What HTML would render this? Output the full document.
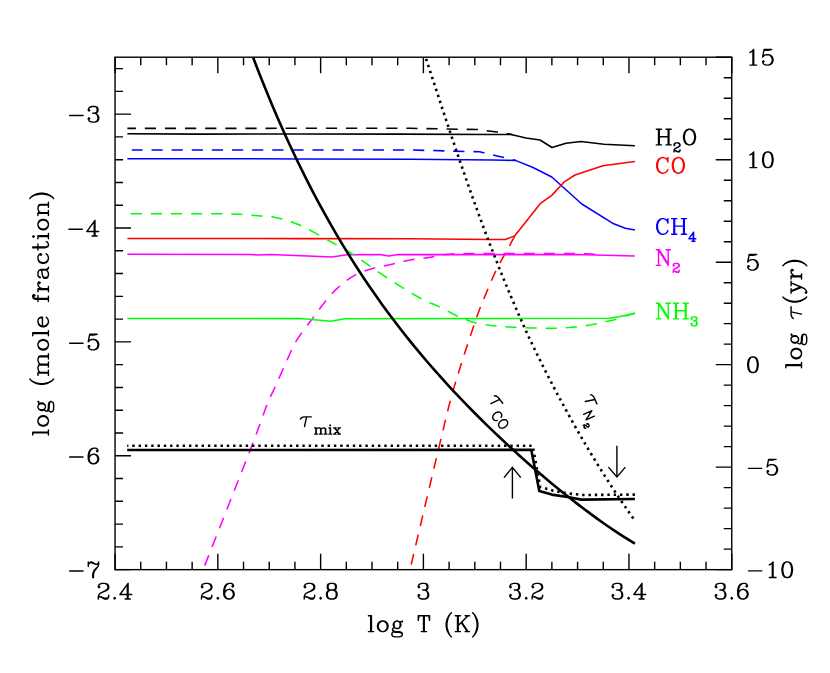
<!DOCTYPE html>
<html><head><meta charset="utf-8"><title>log (mole fraction) vs log T (K)</title>
<style>html,body{margin:0;padding:0;background:#fff;font-family:"Liberation Serif",serif}body{width:830px;height:673px;overflow:hidden}</style>
</head><body>
<svg width="830" height="673" viewBox="0 0 830 673" style="display:block">
<rect width="830" height="673" fill="#fff"/>
<rect x="115.05" y="57.2" width="616.7" height="512.45" fill="none" stroke="#000" stroke-width="1.4"/>
<path d="M115.05 569.65V553.65M115.05 57.2V73.2 M140.75 569.65V561.65M140.75 57.2V65.2 M166.44 569.65V561.65M166.44 57.2V65.2 M192.14 569.65V561.65M192.14 57.2V65.2 M217.83 569.65V553.65M217.83 57.2V73.2 M243.53 569.65V561.65M243.53 57.2V65.2 M269.23 569.65V561.65M269.23 57.2V65.2 M294.92 569.65V561.65M294.92 57.2V65.2 M320.62 569.65V553.65M320.62 57.2V73.2 M346.31 569.65V561.65M346.31 57.2V65.2 M372.01 569.65V561.65M372.01 57.2V65.2 M397.7 569.65V561.65M397.7 57.2V65.2 M423.4 569.65V553.65M423.4 57.2V73.2 M449.1 569.65V561.65M449.1 57.2V65.2 M474.79 569.65V561.65M474.79 57.2V65.2 M500.49 569.65V561.65M500.49 57.2V65.2 M526.18 569.65V553.65M526.18 57.2V73.2 M551.88 569.65V561.65M551.88 57.2V65.2 M577.58 569.65V561.65M577.58 57.2V65.2 M603.27 569.65V561.65M603.27 57.2V65.2 M628.97 569.65V553.65M628.97 57.2V73.2 M654.66 569.65V561.65M654.66 57.2V65.2 M680.36 569.65V561.65M680.36 57.2V65.2 M706.05 569.65V561.65M706.05 57.2V65.2 M731.75 569.65V553.65M731.75 57.2V73.2 M115.05 569.65H131.05 M115.05 546.87H123.05 M115.05 524.1H123.05 M115.05 501.32H123.05 M115.05 478.55H123.05 M115.05 455.77H131.05 M115.05 433H123.05 M115.05 410.22H123.05 M115.05 387.45H123.05 M115.05 364.67H123.05 M115.05 341.89H131.05 M115.05 319.12H123.05 M115.05 296.34H123.05 M115.05 273.57H123.05 M115.05 250.79H123.05 M115.05 228.02H131.05 M115.05 205.24H123.05 M115.05 182.47H123.05 M115.05 159.69H123.05 M115.05 136.91H123.05 M115.05 114.14H131.05 M115.05 91.36H123.05 M115.05 68.59H123.05 M731.75 569.65H715.75 M731.75 549.15H723.75 M731.75 528.65H723.75 M731.75 508.16H723.75 M731.75 487.66H723.75 M731.75 467.16H715.75 M731.75 446.66H723.75 M731.75 426.16H723.75 M731.75 405.67H723.75 M731.75 385.17H723.75 M731.75 364.67H715.75 M731.75 344.17H723.75 M731.75 323.67H723.75 M731.75 303.18H723.75 M731.75 282.68H723.75 M731.75 262.18H715.75 M731.75 241.68H723.75 M731.75 221.18H723.75 M731.75 200.69H723.75 M731.75 180.19H723.75 M731.75 159.69H715.75 M731.75 139.19H723.75 M731.75 118.69H723.75 M731.75 98.2H723.75 M731.75 77.7H723.75 M731.75 57.2H715.75" fill="none" stroke="#000" stroke-width="1.4"/>
<path d="M99.03 586.34 L99.78 587.08 L99.03 587.83 L98.29 587.08 L98.29 586.34 L99.03 584.85 L99.78 584.1 L102.01 583.36 L104.99 583.36 L107.23 584.1 L107.97 584.85 L108.72 586.34 L108.72 587.83 L107.97 589.32 L105.74 590.81 L102.01 592.3 L100.52 593.04 L99.03 594.53 L98.29 596.77 L98.29 599 M104.99 583.36 L106.48 584.1 L107.23 584.85 L107.97 586.34 L107.97 587.83 L107.23 589.32 L104.99 590.81 L102.01 592.3 M98.29 597.51 L99.03 596.77 L100.52 596.77 L104.25 598.26 L106.48 598.26 L107.97 597.51 L108.72 596.77 M100.52 596.77 L104.25 599 L107.23 599 L107.97 598.26 L108.72 596.77 L108.72 595.28 M114.68 597.51 L113.93 598.26 L114.68 599 L115.42 598.26 L114.68 597.51 M127.34 584.85 L127.34 599 M128.09 583.36 L128.09 599 M128.09 583.36 L119.89 594.53 L131.81 594.53 M125.11 599 L130.32 599" fill="none" stroke="#000" stroke-width="1.4" stroke-linecap="round" stroke-linejoin="round"/>
<path d="M202.19 586.34 L202.93 587.08 L202.19 587.83 L201.44 587.08 L201.44 586.34 L202.19 584.85 L202.93 584.1 L205.17 583.36 L208.15 583.36 L210.38 584.1 L211.13 584.85 L211.87 586.34 L211.87 587.83 L211.13 589.32 L208.89 590.81 L205.17 592.3 L203.68 593.04 L202.19 594.53 L201.44 596.77 L201.44 599 M208.15 583.36 L209.64 584.1 L210.38 584.85 L211.13 586.34 L211.13 587.83 L210.38 589.32 L208.15 590.81 L205.17 592.3 M201.44 597.51 L202.19 596.77 L203.68 596.77 L207.4 598.26 L209.64 598.26 L211.13 597.51 L211.87 596.77 M203.68 596.77 L207.4 599 L210.38 599 L211.13 598.26 L211.87 596.77 L211.87 595.28 M217.83 597.51 L217.09 598.26 L217.83 599 L218.58 598.26 L217.83 597.51 M232.73 585.59 L231.99 586.34 L232.73 587.08 L233.48 586.34 L233.48 585.59 L232.73 584.1 L231.24 583.36 L229.01 583.36 L226.77 584.1 L225.28 585.59 L224.54 587.08 L223.79 590.06 L223.79 594.53 L224.54 596.77 L226.03 598.26 L228.26 599 L229.75 599 L231.99 598.26 L233.48 596.77 L234.22 594.53 L234.22 593.79 L233.48 591.55 L231.99 590.06 L229.75 589.32 L229.01 589.32 L226.77 590.06 L225.28 591.55 L224.54 593.79 M229.01 583.36 L227.52 584.1 L226.03 585.59 L225.28 587.08 L224.54 590.06 L224.54 594.53 L225.28 596.77 L226.77 598.26 L228.26 599 M229.75 599 L231.24 598.26 L232.73 596.77 L233.48 594.53 L233.48 593.79 L232.73 591.55 L231.24 590.06 L229.75 589.32" fill="none" stroke="#000" stroke-width="1.4" stroke-linecap="round" stroke-linejoin="round"/>
<path d="M304.97 586.34 L305.72 587.08 L304.97 587.83 L304.23 587.08 L304.23 586.34 L304.97 584.85 L305.72 584.1 L307.95 583.36 L310.93 583.36 L313.17 584.1 L313.91 584.85 L314.66 586.34 L314.66 587.83 L313.91 589.32 L311.68 590.81 L307.95 592.3 L306.46 593.04 L304.97 594.53 L304.23 596.77 L304.23 599 M310.93 583.36 L312.42 584.1 L313.17 584.85 L313.91 586.34 L313.91 587.83 L313.17 589.32 L310.93 590.81 L307.95 592.3 M304.23 597.51 L304.97 596.77 L306.46 596.77 L310.19 598.26 L312.42 598.26 L313.91 597.51 L314.66 596.77 M306.46 596.77 L310.19 599 L313.17 599 L313.91 598.26 L314.66 596.77 L314.66 595.28 M320.62 597.51 L319.87 598.26 L320.62 599 L321.36 598.26 L320.62 597.51 M330.3 583.36 L328.07 584.1 L327.32 585.59 L327.32 587.83 L328.07 589.32 L330.3 590.06 L333.28 590.06 L335.52 589.32 L336.26 587.83 L336.26 585.59 L335.52 584.1 L333.28 583.36 L330.3 583.36 M330.3 583.36 L328.81 584.1 L328.07 585.59 L328.07 587.83 L328.81 589.32 L330.3 590.06 M333.28 590.06 L334.77 589.32 L335.52 587.83 L335.52 585.59 L334.77 584.1 L333.28 583.36 M330.3 590.06 L328.07 590.81 L327.32 591.55 L326.58 593.04 L326.58 596.02 L327.32 597.51 L328.07 598.26 L330.3 599 L333.28 599 L335.52 598.26 L336.26 597.51 L337.01 596.02 L337.01 593.04 L336.26 591.55 L335.52 590.81 L333.28 590.06 M330.3 590.06 L328.81 590.81 L328.07 591.55 L327.32 593.04 L327.32 596.02 L328.07 597.51 L328.81 598.26 L330.3 599 M333.28 599 L334.77 598.26 L335.52 597.51 L336.26 596.02 L336.26 593.04 L335.52 591.55 L334.77 590.81 L333.28 590.06" fill="none" stroke="#000" stroke-width="1.4" stroke-linecap="round" stroke-linejoin="round"/>
<path d="M418.93 586.34 L419.68 587.08 L418.93 587.83 L418.19 587.08 L418.19 586.34 L418.93 584.85 L419.68 584.1 L421.91 583.36 L424.89 583.36 L427.13 584.1 L427.87 585.59 L427.87 587.83 L427.13 589.32 L424.89 590.06 L422.66 590.06 M424.89 583.36 L426.38 584.1 L427.13 585.59 L427.13 587.83 L426.38 589.32 L424.89 590.06 M424.89 590.06 L426.38 590.81 L427.87 592.3 L428.62 593.79 L428.62 596.02 L427.87 597.51 L427.13 598.26 L424.89 599 L421.91 599 L419.68 598.26 L418.93 597.51 L418.19 596.02 L418.19 595.28 L418.93 594.53 L419.68 595.28 L418.93 596.02 M427.13 591.55 L427.87 593.79 L427.87 596.02 L427.13 597.51 L426.38 598.26 L424.89 599" fill="none" stroke="#000" stroke-width="1.4" stroke-linecap="round" stroke-linejoin="round"/>
<path d="M510.54 586.34 L511.28 587.08 L510.54 587.83 L509.79 587.08 L509.79 586.34 L510.54 584.85 L511.28 584.1 L513.52 583.36 L516.5 583.36 L518.73 584.1 L519.48 585.59 L519.48 587.83 L518.73 589.32 L516.5 590.06 L514.26 590.06 M516.5 583.36 L517.99 584.1 L518.73 585.59 L518.73 587.83 L517.99 589.32 L516.5 590.06 M516.5 590.06 L517.99 590.81 L519.48 592.3 L520.22 593.79 L520.22 596.02 L519.48 597.51 L518.73 598.26 L516.5 599 L513.52 599 L511.28 598.26 L510.54 597.51 L509.79 596.02 L509.79 595.28 L510.54 594.53 L511.28 595.28 L510.54 596.02 M518.73 591.55 L519.48 593.79 L519.48 596.02 L518.73 597.51 L517.99 598.26 L516.5 599 M526.18 597.51 L525.44 598.26 L526.18 599 L526.93 598.26 L526.18 597.51 M532.89 586.34 L533.63 587.08 L532.89 587.83 L532.14 587.08 L532.14 586.34 L532.89 584.85 L533.63 584.1 L535.87 583.36 L538.85 583.36 L541.08 584.1 L541.83 584.85 L542.57 586.34 L542.57 587.83 L541.83 589.32 L539.59 590.81 L535.87 592.3 L534.38 593.04 L532.89 594.53 L532.14 596.77 L532.14 599 M538.85 583.36 L540.34 584.1 L541.08 584.85 L541.83 586.34 L541.83 587.83 L541.08 589.32 L538.85 590.81 L535.87 592.3 M532.14 597.51 L532.89 596.77 L534.38 596.77 L538.1 598.26 L540.34 598.26 L541.83 597.51 L542.57 596.77 M534.38 596.77 L538.1 599 L541.08 599 L541.83 598.26 L542.57 596.77 L542.57 595.28" fill="none" stroke="#000" stroke-width="1.4" stroke-linecap="round" stroke-linejoin="round"/>
<path d="M612.95 586.34 L613.69 587.08 L612.95 587.83 L612.2 587.08 L612.2 586.34 L612.95 584.85 L613.69 584.1 L615.93 583.36 L618.91 583.36 L621.14 584.1 L621.89 585.59 L621.89 587.83 L621.14 589.32 L618.91 590.06 L616.67 590.06 M618.91 583.36 L620.4 584.1 L621.14 585.59 L621.14 587.83 L620.4 589.32 L618.91 590.06 M618.91 590.06 L620.4 590.81 L621.89 592.3 L622.63 593.79 L622.63 596.02 L621.89 597.51 L621.14 598.26 L618.91 599 L615.93 599 L613.69 598.26 L612.95 597.51 L612.2 596.02 L612.2 595.28 L612.95 594.53 L613.69 595.28 L612.95 596.02 M621.14 591.55 L621.89 593.79 L621.89 596.02 L621.14 597.51 L620.4 598.26 L618.91 599 M628.59 597.51 L627.85 598.26 L628.59 599 L629.34 598.26 L628.59 597.51 M641.26 584.85 L641.26 599 M642 583.36 L642 599 M642 583.36 L633.81 594.53 L645.73 594.53 M639.02 599 L644.24 599" fill="none" stroke="#000" stroke-width="1.4" stroke-linecap="round" stroke-linejoin="round"/>
<path d="M716.11 586.34 L716.85 587.08 L716.11 587.83 L715.36 587.08 L715.36 586.34 L716.11 584.85 L716.85 584.1 L719.09 583.36 L722.07 583.36 L724.3 584.1 L725.05 585.59 L725.05 587.83 L724.3 589.32 L722.07 590.06 L719.83 590.06 M722.07 583.36 L723.56 584.1 L724.3 585.59 L724.3 587.83 L723.56 589.32 L722.07 590.06 M722.07 590.06 L723.56 590.81 L725.05 592.3 L725.79 593.79 L725.79 596.02 L725.05 597.51 L724.3 598.26 L722.07 599 L719.09 599 L716.85 598.26 L716.11 597.51 L715.36 596.02 L715.36 595.28 L716.11 594.53 L716.85 595.28 L716.11 596.02 M724.3 591.55 L725.05 593.79 L725.05 596.02 L724.3 597.51 L723.56 598.26 L722.07 599 M731.75 597.51 L731.01 598.26 L731.75 599 L732.5 598.26 L731.75 597.51 M746.65 585.59 L745.91 586.34 L746.65 587.08 L747.4 586.34 L747.4 585.59 L746.65 584.1 L745.16 583.36 L742.93 583.36 L740.69 584.1 L739.2 585.59 L738.46 587.08 L737.71 590.06 L737.71 594.53 L738.46 596.77 L739.95 598.26 L742.18 599 L743.67 599 L745.91 598.26 L747.4 596.77 L748.14 594.53 L748.14 593.79 L747.4 591.55 L745.91 590.06 L743.67 589.32 L742.93 589.32 L740.69 590.06 L739.2 591.55 L738.46 593.79 M742.93 583.36 L741.44 584.1 L739.95 585.59 L739.2 587.08 L738.46 590.06 L738.46 594.53 L739.2 596.77 L740.69 598.26 L742.18 599 M743.67 599 L745.16 598.26 L746.65 596.77 L747.4 594.53 L747.4 593.79 L746.65 591.55 L745.16 590.06 L743.67 589.32" fill="none" stroke="#000" stroke-width="1.4" stroke-linecap="round" stroke-linejoin="round"/>
<path d="M69.65 115.44 L83.06 115.44 M89.02 109.48 L89.76 110.22 L89.02 110.97 L88.27 110.22 L88.27 109.48 L89.02 107.99 L89.76 107.24 L92 106.5 L94.98 106.5 L97.21 107.24 L97.95 108.73 L97.95 110.97 L97.21 112.46 L94.98 113.2 L92.74 113.2 M94.98 106.5 L96.47 107.24 L97.21 108.73 L97.21 110.97 L96.47 112.46 L94.98 113.2 M94.98 113.2 L96.47 113.95 L97.95 115.44 L98.7 116.93 L98.7 119.16 L97.95 120.65 L97.21 121.4 L94.98 122.14 L92 122.14 L89.76 121.4 L89.02 120.65 L88.27 119.16 L88.27 118.42 L89.02 117.67 L89.76 118.42 L89.02 119.16 M97.21 114.69 L97.95 116.93 L97.95 119.16 L97.21 120.65 L96.47 121.4 L94.98 122.14" fill="none" stroke="#000" stroke-width="1.4" stroke-linecap="round" stroke-linejoin="round"/>
<path d="M68.9 229.32 L82.31 229.32 M94.23 221.87 L94.23 236.02 M94.98 220.38 L94.98 236.02 M94.98 220.38 L86.78 231.55 L98.7 231.55 M92 236.02 L97.21 236.02" fill="none" stroke="#000" stroke-width="1.4" stroke-linecap="round" stroke-linejoin="round"/>
<path d="M69.65 343.19 L83.06 343.19 M89.76 334.25 L88.27 341.7 M88.27 341.7 L89.76 340.21 L92 339.47 L94.23 339.47 L96.47 340.21 L97.95 341.7 L98.7 343.94 L98.7 345.43 L97.95 347.66 L96.47 349.15 L94.23 349.9 L92 349.9 L89.76 349.15 L89.02 348.41 L88.27 346.92 L88.27 346.17 L89.02 345.43 L89.76 346.17 L89.02 346.92 M94.23 339.47 L95.72 340.21 L97.21 341.7 L97.95 343.94 L97.95 345.43 L97.21 347.66 L95.72 349.15 L94.23 349.9 M89.76 334.25 L97.21 334.25 M89.76 335 L93.48 335 L97.21 334.25" fill="none" stroke="#000" stroke-width="1.4" stroke-linecap="round" stroke-linejoin="round"/>
<path d="M69.65 457.07 L83.06 457.07 M97.21 450.37 L96.47 451.11 L97.21 451.86 L97.95 451.11 L97.95 450.37 L97.21 448.88 L95.72 448.13 L93.48 448.13 L91.25 448.88 L89.76 450.37 L89.02 451.86 L88.27 454.84 L88.27 459.31 L89.02 461.54 L90.5 463.03 L92.74 463.78 L94.23 463.78 L96.47 463.03 L97.95 461.54 L98.7 459.31 L98.7 458.56 L97.95 456.33 L96.47 454.84 L94.23 454.09 L93.48 454.09 L91.25 454.84 L89.76 456.33 L89.02 458.56 M93.48 448.13 L92 448.88 L90.5 450.37 L89.76 451.86 L89.02 454.84 L89.02 459.31 L89.76 461.54 L91.25 463.03 L92.74 463.78 M94.23 463.78 L95.72 463.03 L97.21 461.54 L97.95 459.31 L97.95 458.56 L97.21 456.33 L95.72 454.84 L94.23 454.09" fill="none" stroke="#000" stroke-width="1.4" stroke-linecap="round" stroke-linejoin="round"/>
<path d="M69.65 570.95 L83.06 570.95 M88.27 562.01 L88.27 566.48 M88.27 564.99 L89.02 563.5 L90.5 562.01 L92 562.01 L95.72 564.24 L97.21 564.24 L97.95 563.5 L98.7 562.01 M89.02 563.5 L90.5 562.75 L92 562.75 L95.72 564.24 M98.7 562.01 L98.7 564.24 L97.95 566.48 L94.98 570.2 L94.23 571.69 L93.48 573.93 L93.48 577.65 M97.95 566.48 L94.23 570.2 L93.48 571.69 L92.74 573.93 L92.74 577.65" fill="none" stroke="#000" stroke-width="1.4" stroke-linecap="round" stroke-linejoin="round"/>
<path d="M749.97 52.44 L751.46 51.7 L753.7 49.46 L753.7 65.11 M752.95 50.21 L752.95 65.11 M749.97 65.11 L756.67 65.11 M764.12 49.46 L762.63 56.91 M762.63 56.91 L764.12 55.42 L766.36 54.68 L768.6 54.68 L770.83 55.42 L772.32 56.91 L773.07 59.15 L773.07 60.64 L772.32 62.87 L770.83 64.36 L768.6 65.11 L766.36 65.11 L764.12 64.36 L763.38 63.62 L762.63 62.13 L762.63 61.38 L763.38 60.64 L764.12 61.38 L763.38 62.13 M768.6 54.68 L770.09 55.42 L771.58 56.91 L772.32 59.15 L772.32 60.64 L771.58 62.87 L770.09 64.36 L768.6 65.11 M764.12 49.46 L771.58 49.46 M764.12 50.21 L767.85 50.21 L771.58 49.46" fill="none" stroke="#000" stroke-width="1.4" stroke-linecap="round" stroke-linejoin="round"/>
<path d="M749.97 154.93 L751.46 154.18 L753.7 151.95 L753.7 167.59 M752.95 152.69 L752.95 167.59 M749.97 167.59 L756.67 167.59 M767.11 151.95 L764.87 152.69 L763.38 154.93 L762.63 158.65 L762.63 160.89 L763.38 164.61 L764.87 166.85 L767.11 167.59 L768.6 167.59 L770.83 166.85 L772.32 164.61 L773.07 160.89 L773.07 158.65 L772.32 154.93 L770.83 152.69 L768.6 151.95 L767.11 151.95 M767.11 151.95 L765.62 152.69 L764.87 153.44 L764.12 154.93 L763.38 158.65 L763.38 160.89 L764.12 164.61 L764.87 166.1 L765.62 166.85 L767.11 167.59 M768.6 167.59 L770.09 166.85 L770.83 166.1 L771.58 164.61 L772.32 160.89 L772.32 158.65 L771.58 154.93 L770.83 153.44 L770.09 152.69 L768.6 151.95" fill="none" stroke="#000" stroke-width="1.4" stroke-linecap="round" stroke-linejoin="round"/>
<path d="M749.23 254.44 L747.74 261.89 M747.74 261.89 L749.23 260.4 L751.46 259.65 L753.7 259.65 L755.93 260.4 L757.42 261.89 L758.16 264.12 L758.16 265.62 L757.42 267.85 L755.93 269.34 L753.7 270.08 L751.46 270.08 L749.23 269.34 L748.48 268.59 L747.74 267.11 L747.74 266.36 L748.48 265.62 L749.23 266.36 L748.48 267.11 M753.7 259.65 L755.18 260.4 L756.67 261.89 L757.42 264.12 L757.42 265.62 L756.67 267.85 L755.18 269.34 L753.7 270.08 M749.23 254.44 L756.67 254.44 M749.23 255.19 L752.95 255.19 L756.67 254.44" fill="none" stroke="#000" stroke-width="1.4" stroke-linecap="round" stroke-linejoin="round"/>
<path d="M752.21 356.93 L749.97 357.67 L748.48 359.91 L747.74 363.63 L747.74 365.87 L748.48 369.59 L749.97 371.83 L752.21 372.57 L753.7 372.57 L755.93 371.83 L757.42 369.59 L758.16 365.87 L758.16 363.63 L757.42 359.91 L755.93 357.67 L753.7 356.93 L752.21 356.93 M752.21 356.93 L750.72 357.67 L749.97 358.42 L749.23 359.91 L748.48 363.63 L748.48 365.87 L749.23 369.59 L749.97 371.08 L750.72 371.83 L752.21 372.57 M753.7 372.57 L755.18 371.83 L755.93 371.08 L756.67 369.59 L757.42 365.87 L757.42 363.63 L756.67 359.91 L755.93 358.42 L755.18 357.67 L753.7 356.93" fill="none" stroke="#000" stroke-width="1.4" stroke-linecap="round" stroke-linejoin="round"/>
<path d="M748.48 468.36 L761.89 468.36 M768.6 459.42 L767.11 466.87 M767.11 466.87 L768.6 465.38 L770.83 464.63 L773.07 464.63 L775.3 465.38 L776.79 466.87 L777.53 469.1 L777.53 470.59 L776.79 472.83 L775.3 474.32 L773.07 475.06 L770.83 475.06 L768.6 474.32 L767.85 473.57 L767.11 472.08 L767.11 471.34 L767.85 470.59 L768.6 471.34 L767.85 472.08 M773.07 464.63 L774.55 465.38 L776.04 466.87 L776.79 469.1 L776.79 470.59 L776.04 472.83 L774.55 474.32 L773.07 475.06 M768.6 459.42 L776.04 459.42 M768.6 460.16 L772.32 460.16 L776.04 459.42" fill="none" stroke="#000" stroke-width="1.4" stroke-linecap="round" stroke-linejoin="round"/>
<path d="M748.48 570.85 L761.89 570.85 M769.34 564.89 L770.83 564.14 L773.07 561.91 L773.07 577.56 M772.32 562.65 L772.32 577.56 M769.34 577.56 L776.04 577.56 M786.48 561.91 L784.24 562.65 L782.75 564.89 L782 568.62 L782 570.85 L782.75 574.58 L784.24 576.81 L786.48 577.56 L787.97 577.56 L790.2 576.81 L791.69 574.58 L792.43 570.85 L792.43 568.62 L791.69 564.89 L790.2 562.65 L787.97 561.91 L786.48 561.91 M786.48 561.91 L784.99 562.65 L784.24 563.4 L783.5 564.89 L782.75 568.62 L782.75 570.85 L783.5 574.58 L784.24 576.07 L784.99 576.81 L786.48 577.56 M787.97 577.56 L789.46 576.81 L790.2 576.07 L790.95 574.58 L791.69 570.85 L791.69 568.62 L790.95 564.89 L790.2 563.4 L789.46 562.65 L787.97 561.91" fill="none" stroke="#000" stroke-width="1.4" stroke-linecap="round" stroke-linejoin="round"/>
<path d="M32.74 432.87 L48.42 432.87 M32.74 432.12 L48.42 432.12 M32.74 435.11 L32.74 432.12 M48.42 435.11 L48.42 429.88 M37.97 421.67 L38.71 423.91 L40.21 425.4 L42.45 426.15 L43.94 426.15 L46.18 425.4 L47.67 423.91 L48.42 421.67 L48.42 420.17 L47.67 417.94 L46.18 416.44 L43.94 415.7 L42.45 415.7 L40.21 416.44 L38.71 417.94 L37.97 420.17 L37.97 421.67 M37.97 421.67 L38.71 423.16 L40.21 424.65 L42.45 425.4 L43.94 425.4 L46.18 424.65 L47.67 423.16 L48.42 421.67 M48.42 420.17 L47.67 418.68 L46.18 417.19 L43.94 416.44 L42.45 416.44 L40.21 417.19 L38.71 418.68 L37.97 420.17 M37.97 407.48 L38.71 408.98 L39.46 409.72 L40.95 410.47 L42.45 410.47 L43.94 409.72 L44.69 408.98 L45.43 407.48 L45.43 405.99 L44.69 404.5 L43.94 403.75 L42.45 403 L40.95 403 L39.46 403.75 L38.71 404.5 L37.97 405.99 L37.97 407.48 M38.71 408.98 L40.21 409.72 L43.19 409.72 L44.69 408.98 M44.69 404.5 L43.19 403.75 L40.21 403.75 L38.71 404.5 M39.46 403.75 L38.71 403 L37.97 401.51 L38.71 401.51 L38.71 403 M43.94 409.72 L44.69 410.47 L46.18 411.22 L46.93 411.22 L48.42 410.47 L49.17 408.23 L49.17 404.5 L49.91 402.26 L50.66 401.51 M46.93 411.22 L47.67 410.47 L48.42 408.23 L48.42 404.5 L49.17 402.26 L50.66 401.51 L51.41 401.51 L52.9 402.26 L53.65 404.5 L53.65 408.98 L52.9 411.22 L51.41 411.96 L50.66 411.96 L49.17 411.22 L48.42 408.98 M29.75 379.11 L31.25 380.61 L33.49 382.1 L36.47 383.59 L40.21 384.34 L43.19 384.34 L46.93 383.59 L49.91 382.1 L52.15 380.61 L53.65 379.11 M31.25 380.61 L34.23 382.1 L36.47 382.84 L40.21 383.59 L43.19 383.59 L46.93 382.84 L49.17 382.1 L52.15 380.61 M37.97 373.14 L48.42 373.14 M37.97 372.39 L48.42 372.39 M40.21 372.39 L38.71 370.9 L37.97 368.66 L37.97 367.17 L38.71 364.93 L40.21 364.18 L48.42 364.18 M37.97 367.17 L38.71 365.67 L40.21 364.93 L48.42 364.93 M40.21 364.18 L38.71 362.69 L37.97 360.45 L37.97 358.95 L38.71 356.71 L40.21 355.97 L48.42 355.97 M37.97 358.95 L38.71 357.46 L40.21 356.71 L48.42 356.71 M37.97 375.38 L37.97 372.39 M48.42 375.38 L48.42 370.15 M48.42 367.17 L48.42 361.94 M48.42 358.95 L48.42 353.73 M37.97 345.51 L38.71 347.75 L40.21 349.25 L42.45 349.99 L43.94 349.99 L46.18 349.25 L47.67 347.75 L48.42 345.51 L48.42 344.02 L47.67 341.78 L46.18 340.29 L43.94 339.54 L42.45 339.54 L40.21 340.29 L38.71 341.78 L37.97 344.02 L37.97 345.51 M37.97 345.51 L38.71 347.01 L40.21 348.5 L42.45 349.25 L43.94 349.25 L46.18 348.5 L47.67 347.01 L48.42 345.51 M48.42 344.02 L47.67 342.53 L46.18 341.04 L43.94 340.29 L42.45 340.29 L40.21 341.04 L38.71 342.53 L37.97 344.02 M32.74 333.57 L48.42 333.57 M32.74 332.82 L48.42 332.82 M32.74 335.81 L32.74 332.82 M48.42 335.81 L48.42 330.58 M42.45 326.1 L42.45 317.14 L40.95 317.14 L39.46 317.89 L38.71 318.64 L37.97 320.13 L37.97 322.37 L38.71 324.61 L40.21 326.1 L42.45 326.85 L43.94 326.85 L46.18 326.1 L47.67 324.61 L48.42 322.37 L48.42 320.88 L47.67 318.64 L46.18 317.14 M42.45 317.89 L40.21 317.89 L38.71 318.64 M37.97 322.37 L38.71 323.86 L40.21 325.36 L42.45 326.1 L43.94 326.1 L46.18 325.36 L47.67 323.86 L48.42 322.37 M33.49 295.49 L34.23 296.24 L34.98 295.49 L34.23 294.75 L33.49 294.75 L32.74 295.49 L32.74 296.99 L33.49 298.48 L34.98 299.23 L48.42 299.23 M32.74 296.99 L33.49 297.73 L34.98 298.48 L48.42 298.48 M37.97 301.47 L37.97 295.49 M48.42 301.47 L48.42 296.24 M37.97 289.52 L48.42 289.52 M37.97 288.77 L48.42 288.77 M42.45 288.77 L40.21 288.03 L38.71 286.53 L37.97 285.04 L37.97 282.8 L38.71 282.05 L39.46 282.05 L40.21 282.8 L39.46 283.55 L38.71 282.8 M37.97 291.76 L37.97 288.77 M48.42 291.76 L48.42 286.53 M39.46 276.83 L40.21 276.83 L40.21 277.57 L39.46 277.57 L38.71 276.83 L37.97 275.33 L37.97 272.35 L38.71 270.85 L39.46 270.11 L40.95 269.36 L46.18 269.36 L47.67 268.62 L48.42 267.87 M39.46 270.11 L46.18 270.11 L47.67 269.36 L48.42 267.87 L48.42 267.12 M40.95 270.11 L41.7 270.85 L42.45 275.33 L43.19 277.57 L44.69 278.32 L46.18 278.32 L47.67 277.57 L48.42 275.33 L48.42 273.09 L47.67 271.6 L46.18 270.11 M42.45 275.33 L43.19 276.83 L44.69 277.57 L46.18 277.57 L47.67 276.83 L48.42 275.33 M40.21 254.43 L40.95 255.18 L41.7 254.43 L40.95 253.68 L40.21 253.68 L38.71 255.18 L37.97 256.67 L37.97 258.91 L38.71 261.15 L40.21 262.64 L42.45 263.39 L43.94 263.39 L46.18 262.64 L47.67 261.15 L48.42 258.91 L48.42 257.42 L47.67 255.18 L46.18 253.68 M37.97 258.91 L38.71 260.4 L40.21 261.9 L42.45 262.64 L43.94 262.64 L46.18 261.9 L47.67 260.4 L48.42 258.91 M32.74 247.71 L45.43 247.71 L47.67 246.96 L48.42 245.47 L48.42 243.98 L47.67 242.48 L46.18 241.74 M32.74 246.96 L45.43 246.96 L47.67 246.22 L48.42 245.47 M37.97 249.95 L37.97 243.98 M32.74 236.51 L33.49 237.26 L34.23 236.51 L33.49 235.76 L32.74 236.51 M37.97 236.51 L48.42 236.51 M37.97 235.76 L48.42 235.76 M37.97 238.75 L37.97 235.76 M48.42 238.75 L48.42 233.52 M37.97 225.31 L38.71 227.55 L40.21 229.05 L42.45 229.79 L43.94 229.79 L46.18 229.05 L47.67 227.55 L48.42 225.31 L48.42 223.82 L47.67 221.58 L46.18 220.09 L43.94 219.34 L42.45 219.34 L40.21 220.09 L38.71 221.58 L37.97 223.82 L37.97 225.31 M37.97 225.31 L38.71 226.81 L40.21 228.3 L42.45 229.05 L43.94 229.05 L46.18 228.3 L47.67 226.81 L48.42 225.31 M48.42 223.82 L47.67 222.33 L46.18 220.83 L43.94 220.09 L42.45 220.09 L40.21 220.83 L38.71 222.33 L37.97 223.82 M37.97 213.37 L48.42 213.37 M37.97 212.62 L48.42 212.62 M40.21 212.62 L38.71 211.13 L37.97 208.89 L37.97 207.39 L38.71 205.15 L40.21 204.41 L48.42 204.41 M37.97 207.39 L38.71 205.9 L40.21 205.15 L48.42 205.15 M37.97 215.61 L37.97 212.62 M48.42 215.61 L48.42 210.38 M48.42 207.39 L48.42 202.17 M29.75 198.43 L31.25 196.94 L33.49 195.45 L36.47 193.96 L40.21 193.21 L43.19 193.21 L46.93 193.96 L49.91 195.45 L52.15 196.94 L53.65 198.43 M31.25 196.94 L34.23 195.45 L36.47 194.7 L40.21 193.96 L43.19 193.96 L46.93 194.7 L49.17 195.45 L52.15 196.94" fill="none" stroke="#000" stroke-width="1.4" stroke-linecap="round" stroke-linejoin="round"/>
<path d="M370.67 615.74 L370.67 631.59 M371.43 615.74 L371.43 631.59 M368.41 615.74 L371.43 615.74 M368.41 631.59 L373.69 631.59 M382 621.02 L379.73 621.78 L378.22 623.29 L377.47 625.55 L377.47 627.06 L378.22 629.33 L379.73 630.84 L382 631.59 L383.51 631.59 L385.77 630.84 L387.28 629.33 L388.04 627.06 L388.04 625.55 L387.28 623.29 L385.77 621.78 L383.51 621.02 L382 621.02 M382 621.02 L380.49 621.78 L378.98 623.29 L378.22 625.55 L378.22 627.06 L378.98 629.33 L380.49 630.84 L382 631.59 M383.51 631.59 L385.02 630.84 L386.53 629.33 L387.28 627.06 L387.28 625.55 L386.53 623.29 L385.02 621.78 L383.51 621.02 M396.34 621.02 L394.83 621.78 L394.08 622.53 L393.32 624.04 L393.32 625.55 L394.08 627.06 L394.83 627.82 L396.34 628.57 L397.85 628.57 L399.37 627.82 L400.12 627.06 L400.88 625.55 L400.88 624.04 L400.12 622.53 L399.37 621.78 L397.85 621.02 L396.34 621.02 M394.83 621.78 L394.08 623.29 L394.08 626.31 L394.83 627.82 M399.37 627.82 L400.12 626.31 L400.12 623.29 L399.37 621.78 M400.12 622.53 L400.88 621.78 L402.38 621.02 L402.38 621.78 L400.88 621.78 M394.08 627.06 L393.32 627.82 L392.57 629.33 L392.57 630.08 L393.32 631.59 L395.59 632.35 L399.37 632.35 L401.63 633.1 L402.38 633.86 M392.57 630.08 L393.32 630.84 L395.59 631.59 L399.37 631.59 L401.63 632.35 L402.38 633.86 L402.38 634.62 L401.63 636.12 L399.37 636.88 L394.83 636.88 L392.57 636.12 L391.81 634.62 L391.81 633.86 L392.57 632.35 L394.83 631.59 M423.52 615.74 L423.52 631.59 M424.28 615.74 L424.28 631.59 M419 615.74 L418.24 620.27 L418.24 615.74 L429.56 615.74 L429.56 620.27 L428.81 615.74 M421.26 631.59 L426.54 631.59 M451.46 612.72 L449.95 614.23 L448.44 616.5 L446.93 619.51 L446.17 623.29 L446.17 626.31 L446.93 630.08 L448.44 633.1 L449.95 635.37 L451.46 636.88 M449.95 614.23 L448.44 617.25 L447.68 619.51 L446.93 623.29 L446.93 626.31 L447.68 630.08 L448.44 632.35 L449.95 635.37 M457.5 615.74 L457.5 631.59 M458.25 615.74 L458.25 631.59 M468.07 615.74 L458.25 625.55 M462.03 622.53 L468.07 631.59 M461.27 622.53 L467.31 631.59 M455.23 615.74 L460.52 615.74 M465.05 615.74 L469.58 615.74 M455.23 631.59 L460.52 631.59 M465.05 631.59 L469.58 631.59 M472.6 612.72 L474.11 614.23 L475.62 616.5 L477.13 619.51 L477.88 623.29 L477.88 626.31 L477.13 630.08 L475.62 633.1 L474.11 635.37 L472.6 636.88 M474.11 614.23 L475.62 617.25 L476.38 619.51 L477.13 623.29 L477.13 626.31 L476.38 630.08 L475.62 632.35 L474.11 635.37" fill="none" stroke="#000" stroke-width="1.4" stroke-linecap="round" stroke-linejoin="round"/>
<path d="M785.86 365.47 L801.5 365.47 M785.86 364.73 L801.5 364.73 M785.86 367.71 L785.86 364.73 M801.5 367.71 L801.5 362.5 M791.07 354.3 L791.82 356.53 L793.31 358.02 L795.54 358.77 L797.03 358.77 L799.27 358.02 L800.76 356.53 L801.5 354.3 L801.5 352.81 L800.76 350.57 L799.27 349.08 L797.03 348.34 L795.54 348.34 L793.31 349.08 L791.82 350.57 L791.07 352.81 L791.07 354.3 M791.07 354.3 L791.82 355.79 L793.31 357.28 L795.54 358.02 L797.03 358.02 L799.27 357.28 L800.76 355.79 L801.5 354.3 M801.5 352.81 L800.76 351.32 L799.27 349.83 L797.03 349.08 L795.54 349.08 L793.31 349.83 L791.82 351.32 L791.07 352.81 M791.07 340.14 L791.82 341.63 L792.56 342.38 L794.05 343.12 L795.54 343.12 L797.03 342.38 L797.78 341.63 L798.52 340.14 L798.52 338.65 L797.78 337.16 L797.03 336.42 L795.54 335.68 L794.05 335.68 L792.56 336.42 L791.82 337.16 L791.07 338.65 L791.07 340.14 M791.82 341.63 L793.31 342.38 L796.29 342.38 L797.78 341.63 M797.78 337.16 L796.29 336.42 L793.31 336.42 L791.82 337.16 M792.56 336.42 L791.82 335.68 L791.07 334.19 L791.82 334.19 L791.82 335.68 M797.03 342.38 L797.78 343.12 L799.27 343.87 L800.01 343.87 L801.5 343.12 L802.25 340.89 L802.25 337.16 L803 334.93 L803.74 334.19 M800.01 343.87 L800.76 343.12 L801.5 340.89 L801.5 337.16 L802.25 334.93 L803.74 334.19 L804.48 334.19 L805.97 334.93 L806.72 337.16 L806.72 341.63 L805.97 343.87 L804.48 344.62 L803.74 344.62 L802.25 343.87 L801.5 341.63" fill="none" stroke="#000" stroke-width="1.4" stroke-linecap="round" stroke-linejoin="round"/>
<path d="M791.07 311.83 L801.5 314.07 M793.31 318.54 L791.82 317.05 L791.07 314.81 L791.07 306.62" fill="none" stroke="#000" stroke-width="1.4" stroke-linecap="round" stroke-linejoin="round"/>
<path d="M782.88 296.94 L784.37 298.43 L786.6 299.92 L789.58 301.4 L793.31 302.15 L796.29 302.15 L800.01 301.4 L803 299.92 L805.23 298.43 L806.72 296.94 M784.37 298.43 L787.35 299.92 L789.58 300.66 L793.31 301.4 L796.29 301.4 L800.01 300.66 L802.25 299.92 L805.23 298.43 M791.07 291.72 L801.5 287.25 M791.07 290.98 L800.01 287.25 M791.07 282.78 L801.5 287.25 L804.48 288.74 L805.97 290.23 L806.72 291.72 L806.72 292.46 L805.97 293.21 L805.23 292.46 L805.97 291.72 M791.07 293.21 L791.07 288.74 M791.07 285.76 L791.07 281.29 M791.07 276.82 L801.5 276.82 M791.07 276.07 L801.5 276.07 M795.54 276.07 L793.31 275.33 L791.82 273.84 L791.07 272.35 L791.07 270.12 L791.82 269.37 L792.56 269.37 L793.31 270.12 L792.56 270.86 L791.82 270.12 M791.07 279.06 L791.07 276.07 M801.5 279.06 L801.5 273.84 M782.88 265.64 L784.37 264.15 L786.6 262.67 L789.58 261.18 L793.31 260.43 L796.29 260.43 L800.01 261.18 L803 262.67 L805.23 264.15 L806.72 265.64 M784.37 264.15 L787.35 262.67 L789.58 261.92 L793.31 261.18 L796.29 261.18 L800.01 261.92 L802.25 262.67 L805.23 264.15" fill="none" stroke="#000" stroke-width="1.4" stroke-linecap="round" stroke-linejoin="round"/>
<path d="M127.4 133.8 L200 134.1 L300 133.9 L400 134.1 L490 134.5 L511 134.5 L526 138 L540 140 L552 147.5 L566 143.2 L581 141.6 L604 144.2 L634.9 145.7" fill="none" stroke="#000" stroke-width="1.55" stroke-linecap="butt" stroke-linejoin="round"/>
<path d="M127.4 128.4 L410 128.3 L477.6 129.6 L497 132 L512.4 134.4" fill="none" stroke="#000" stroke-width="1.55" stroke-linecap="butt" stroke-linejoin="round" stroke-dasharray="11.2 8.92" stroke-dashoffset="2.72"/>
<path d="M127.4 158.7 L300 158.9 L410 159.2 L493 160 L505.5 160.2 L516 160.6 L532.5 167.3 L551.8 177 L581.8 204 L613.7 223.8 L625.3 228.2 L634.9 230.1" fill="none" stroke="#0000ff" stroke-width="1.55" stroke-linecap="butt" stroke-linejoin="round"/>
<path d="M131.8 150 L410 150 L479.6 151.8 L497 155.9 L511.3 159.2 L516 160.6" fill="none" stroke="#0000ff" stroke-width="1.55" stroke-linecap="butt" stroke-linejoin="round" stroke-dasharray="11.2 8.92" stroke-dashoffset="0.42"/>
<path d="M127.4 238.5 L300 238.6 L410 238.8 L490 239.4 L505.5 239.5 L515 235.6 L540.2 203.7 L551.8 195.4 L564.4 181.8 L575 175 L603 165.8 L634.9 161.5" fill="none" stroke="#ff0000" stroke-width="1.55" stroke-linecap="butt" stroke-linejoin="round"/>
<path d="M411.2 564.5 L413.42 555.12 L416.46 542.23 L420.09 526.84 L424.07 509.96 L428.17 492.62 L432.15 475.84 L435.77 460.63 L438.8 448 L441.22 437.9 L443.26 429.33 L445.02 421.9 L446.62 415.24 L448.17 408.97 L449.79 402.69 L451.6 396.03 L453.7 388.6 L456.15 380.29 L458.87 371.42 L461.76 362.24 L464.72 353.03 L467.67 344.03 L470.49 335.52 L473.1 327.75 L475.4 321 L477.39 315.31 L479.17 310.44 L480.76 306.25 L482.22 302.59 L483.59 299.28 L484.9 296.19 L486.19 293.15 L487.5 290 L488.78 286.89 L489.98 284.04 L491.11 281.37 L492.21 278.84 L493.3 276.4 L494.41 273.98 L495.57 271.53 L496.8 269 L498.14 266.36 L499.57 263.65 L501.05 260.92 L502.56 258.22 L504.04 255.58 L505.46 253.05 L506.8 250.68 L508 248.5 L509.11 246.47 L510.17 244.52 L511.17 242.68 L512.1 240.97 L512.94 239.42 L513.68 238.06 L514.31 236.91 L514.8 236" fill="none" stroke="#ff0000" stroke-width="1.55" stroke-linecap="butt" stroke-linejoin="round" stroke-dasharray="10.957 8.727" stroke-dashoffset="0"/>
<path d="M127.4 254.2 L250 254.4 L258.8 255.1 L270 254.4 L331.8 257 L347 254.8 L380 254.6 L388.8 256 L398 254.6 L575 254.6 L634.9 256" fill="none" stroke="#ff00ff" stroke-width="1.55" stroke-linecap="butt" stroke-linejoin="round"/>
<path d="M204.7 565.6 L208.42 556.15 L213.59 543.06 L219.77 527.43 L226.51 510.34 L233.39 492.91 L239.95 476.23 L245.77 461.39 L250.4 449.5 L253.93 440.31 L256.8 432.67 L259.13 426.32 L261.06 420.99 L262.68 416.44 L264.14 412.4 L265.54 408.6 L267 404.8 L268.39 401.36 L269.52 398.69 L270.47 396.58 L271.31 394.83 L272.11 393.22 L272.95 391.56 L273.89 389.62 L275 387.2 L276.29 384.31 L277.69 381.16 L279.17 377.81 L280.69 374.37 L282.23 370.9 L283.75 367.5 L285.22 364.23 L286.6 361.2 L287.86 358.4 L289.03 355.75 L290.13 353.21 L291.21 350.76 L292.33 348.34 L293.52 345.91 L294.83 343.45 L296.3 340.9 L297.92 338.32 L299.63 335.76 L301.44 333.2 L303.34 330.61 L305.32 327.98 L307.37 325.29 L309.5 322.5 L311.7 319.6 L314 316.51 L316.41 313.2 L318.92 309.77 L321.5 306.29 L324.12 302.85 L326.76 299.51 L329.4 296.37 L332 293.5 L334.6 290.86 L337.24 288.35 L339.89 285.98 L342.56 283.75 L345.21 281.66 L347.85 279.72 L350.45 277.93 L353 276.3 L355.52 274.86 L358.01 273.62 L360.48 272.55 L362.93 271.62 L365.34 270.79 L367.73 270.04 L370.08 269.32 L372.4 268.6 L374.66 267.93 L376.85 267.37 L378.99 266.89 L381.11 266.45 L383.23 266.04 L385.37 265.63 L387.55 265.19 L389.8 264.7 L392.1 264.16 L394.43 263.58 L396.79 262.99 L399.18 262.39 L401.59 261.8 L404.03 261.23 L406.5 260.69 L409 260.2 L411.57 259.76 L414.24 259.36 L416.96 258.99 L419.7 258.64 L422.41 258.3 L425.06 257.97 L427.6 257.64 L430 257.3 L432.18 256.94 L434.16 256.57 L436.01 256.2 L437.81 255.83 L439.63 255.48 L441.55 255.15 L443.65 254.85 L446 254.6 L448.06 254.39 L449.54 254.21 L450.85 254.06 L452.44 253.93 L454.72 253.83 L458.12 253.74 L463.07 253.67 L470 253.6 L479.8 253.54 L492.43 253.5 L506.96 253.47 L522.44 253.46 L537.92 253.47 L552.48 253.49 L565.15 253.54 L575 253.6 L582.12 253.7 L587.46 253.84 L591.33 254.01 L594.06 254.2 L595.97 254.39 L597.38 254.56 L598.62 254.7 L600 254.8" fill="none" stroke="#ff00ff" stroke-width="1.55" stroke-linecap="butt" stroke-linejoin="round" stroke-dasharray="11.2 8.92" stroke-dashoffset="0"/>
<path d="M127.4 318.5 L300 318.6 L331 321.2 L345 318.8 L609.5 318.2 L620 316.6 L634.9 313.3" fill="none" stroke="#00ff00" stroke-width="1.55" stroke-linecap="butt" stroke-linejoin="round"/>
<path d="M130.7 213.8 L139.54 213.8 L152.22 213.79 L166.47 213.79 L180 213.8 L192.9 213.77 L206.16 213.73 L218.84 213.74 L230 213.9 L239.51 214.3 L247.83 214.88 L254.91 215.46 L260.7 215.9 L264.29 215.95 L266.02 215.76 L267.66 215.76 L271 216.4 L276.6 217.68 L283.47 219.41 L291.11 221.71 L299 224.7 L307.59 228.82 L316.95 233.88 L326.04 239.02 L333.8 243.4 L339.37 246.41 L343.51 248.64 L347.6 251 L353 254.4 L360.24 259.31 L368.53 265.16 L377.31 271.33 L386 277.2 L394.94 282.94 L404.27 288.77 L413.14 294.14 L420.7 298.5 L426.44 301.43 L430.92 303.31 L434.86 304.81 L439 306.6 L443.6 308.91 L448.24 311.38 L452.67 313.73 L456.6 315.7 L459.92 317.19 L462.79 318.35 L465.36 319.31 L467.8 320.2 L469.9 321.01 L471.66 321.67 L473.54 322.28 L476 322.9 L479.07 323.55 L482.54 324.2 L486.49 324.82 L491 325.4 L496.59 325.95 L503.04 326.48 L509.38 326.94 L514.6 327.3 L517.84 327.5 L519.82 327.58 L521.97 327.62 L525.7 327.7 L531.67 327.9 L539.04 328.17 L546.96 328.35 L554.6 328.3 L561.83 328.01 L569.05 327.55 L576.27 326.89 L583.5 326 L591.18 324.74 L599.16 323.16 L606.53 321.55 L612.4 320.2 L616.08 319.23 L618.2 318.47 L619.82 317.77 L622 317 L625.3 316.02 L629.05 314.95 L632.5 313.98 L634.9 313.3" fill="none" stroke="#00ff00" stroke-width="1.55" stroke-linecap="butt" stroke-linejoin="round" stroke-dasharray="11.2 8.92" stroke-dashoffset="0"/>
<path d="M253.2 57.82 L259.67 74.5 L266.14 90.6 L272.61 106.15 L279.08 121.17 L285.55 135.68 L292.02 149.71 L298.49 163.27 L304.96 176.38 L311.43 189.06 L317.89 201.33 L324.36 213.21 L330.83 224.71 L337.3 235.86 L343.77 246.66 L350.24 257.14 L356.71 267.3 L363.18 277.17 L369.65 286.76 L376.12 296.08 L382.59 305.15 L389.06 313.97 L395.53 322.57 L402 330.94 L408.47 339.11 L414.94 347.08 L421.41 354.87 L427.88 362.48 L434.35 369.92 L440.82 377.21 L447.28 384.34 L453.75 391.33 L460.22 398.19 L466.69 404.91 L473.16 411.52 L479.63 418 L486.1 424.38 L492.57 430.64 L499.04 436.8 L505.51 442.86 L511.98 448.82 L518.45 454.69 L524.92 460.46 L531.39 466.15 L537.86 471.74 L544.33 477.24 L550.8 482.65 L557.27 487.96 L563.74 493.19 L570.21 498.32 L576.67 503.35 L583.14 508.29 L589.61 513.12 L596.08 517.84 L602.55 522.46 L609.02 526.96 L615.49 531.34 L621.96 535.59 L628.43 539.71 L634.9 543.69" fill="none" stroke="#000" stroke-width="2.6" stroke-linecap="butt" stroke-linejoin="round"/>
<path d="M425.57 57.2 L428.13 65.06 L430.7 72.92 L433.26 80.78 L435.83 88.64 L438.4 96.51 L440.97 104.37 L443.56 112.23 L446.15 120.09 L448.76 127.95 L451.38 135.81 L454.02 143.67 L456.67 151.53 L459.35 159.39 L462.04 167.25 L464.76 175.12 L467.5 182.98 L470.26 190.84 L473.06 198.7 L475.89 206.56 L478.74 214.42 L481.64 222.28 L484.56 230.14 L487.53 238 L490.53 245.86 L493.58 253.73 L496.66 261.59 L499.8 269.45 L502.97 277.31 L506.2 285.17 L509.48 293.03 L512.81 300.89 L516.19 308.75 L519.63 316.61 L523.12 324.47 L526.68 332.34 L530.3 340.2 L534.06 348.06 L537.88 355.92 L541.77 363.78 L545.73 371.64 L549.75 379.5 L553.85 387.36 L558.03 395.22 L562.25 403.08 L566.49 410.95 L570.82 418.81 L575.23 426.67 L579.72 434.53 L584.3 442.39 L588.96 450.25 L593.71 458.11 L598.56 465.97 L603.49 473.83 L608.52 481.69 L613.64 489.56 L618.86 497.42 L624.18 505.28 L629.61 513.14 L635.13 521" fill="none" stroke="#000" stroke-width="2.6" stroke-linecap="butt" stroke-linejoin="round" stroke-dasharray="2.4 3.9" stroke-dashoffset="-1.7"/>
<path d="M127.2 450 L531.3 449.9 L539.3 491.1 L551.8 494.6 L569.2 497.2 L581.4 499.6 L634.9 499" fill="none" stroke="#000" stroke-width="2.6" stroke-linecap="butt" stroke-linejoin="round"/>
<path d="M127.2 445.7 L532.7 445.8 L540.2 487 L553.3 490.7 L569.2 493.6 L582.2 495 L634.9 494.6" fill="none" stroke="#000" stroke-width="2.6" stroke-linecap="butt" stroke-linejoin="round" stroke-dasharray="2.4 3.9" stroke-dashoffset="1.2"/>
<path d="M512.4 498.5 L512.4 467.4" fill="none" stroke="#000" stroke-width="1.4" stroke-linecap="butt" stroke-linejoin="round"/>
<path d="M504 477.6 L512.4 467.4 L520.8 477.6" fill="none" stroke="#000" stroke-width="1.4" stroke-linecap="butt" stroke-linejoin="miter"/>
<path d="M616.9 445.8 L616.9 476.9" fill="none" stroke="#000" stroke-width="1.4" stroke-linecap="butt" stroke-linejoin="round"/>
<path d="M608.4 467.1 L616.9 476.9 L625.4 467.1" fill="none" stroke="#000" stroke-width="1.4" stroke-linecap="butt" stroke-linejoin="miter"/>
<path d="M658.52 129.26 L658.52 144.91 M659.27 129.26 L659.27 144.91 M668.21 129.26 L668.21 144.91 M668.95 129.26 L668.95 144.91 M656.29 129.26 L661.5 129.26 M665.97 129.26 L671.19 129.26 M659.27 136.71 L668.21 136.71 M656.29 144.91 L661.5 144.91 M665.97 144.91 L671.19 144.91" fill="none" stroke="#000" stroke-width="1.4" stroke-linecap="round" stroke-linejoin="round"/>
<path d="M674.41 144.56 L674.84 144.99 L674.41 145.42 L673.98 144.99 L673.98 144.56 L674.41 143.7 L674.84 143.26 L676.14 142.83 L677.87 142.83 L679.16 143.26 L679.59 143.7 L680.03 144.56 L680.03 145.42 L679.59 146.29 L678.3 147.15 L676.14 148.02 L675.27 148.45 L674.41 149.31 L673.98 150.61 L673.98 151.91 M677.87 142.83 L678.73 143.26 L679.16 143.7 L679.59 144.56 L679.59 145.42 L679.16 146.29 L677.87 147.15 L676.14 148.02 M673.98 151.04 L674.41 150.61 L675.27 150.61 L677.43 151.47 L678.73 151.47 L679.59 151.04 L680.03 150.61 M675.27 150.61 L677.43 151.91 L679.16 151.91 L679.59 151.47 L680.03 150.61 L680.03 149.74" fill="none" stroke="#000" stroke-width="1.4" stroke-linecap="round" stroke-linejoin="round"/>
<path d="M688.77 129.26 L686.54 130 L685.05 131.49 L684.3 132.98 L683.56 135.96 L683.56 138.2 L684.3 141.18 L685.05 142.67 L686.54 144.16 L688.77 144.91 L690.26 144.91 L692.5 144.16 L693.99 142.67 L694.73 141.18 L695.48 138.2 L695.48 135.96 L694.73 132.98 L693.99 131.49 L692.5 130 L690.26 129.26 L688.77 129.26 M688.77 129.26 L687.28 130 L685.79 131.49 L685.05 132.98 L684.3 135.96 L684.3 138.2 L685.05 141.18 L685.79 142.67 L687.28 144.16 L688.77 144.91 M690.26 144.91 L691.75 144.16 L693.24 142.67 L693.99 141.18 L694.73 138.2 L694.73 135.96 L693.99 132.98 L693.24 131.49 L691.75 130 L690.26 129.26" fill="none" stroke="#000" stroke-width="1.4" stroke-linecap="round" stroke-linejoin="round"/>
<path d="M667.16 159.79 L667.91 162.03 L667.91 157.56 L667.16 159.79 L665.67 158.31 L663.44 157.56 L661.95 157.56 L659.72 158.31 L658.23 159.79 L657.48 161.28 L656.74 163.52 L656.74 167.25 L657.48 169.48 L658.23 170.97 L659.72 172.46 L661.95 173.21 L663.44 173.21 L665.67 172.46 L667.16 170.97 L667.91 169.48 M661.95 157.56 L660.46 158.31 L658.97 159.79 L658.23 161.28 L657.48 163.52 L657.48 167.25 L658.23 169.48 L658.97 170.97 L660.46 172.46 L661.95 173.21 M677.6 157.56 L675.36 158.31 L673.87 159.79 L673.12 161.28 L672.38 164.26 L672.38 166.5 L673.12 169.48 L673.87 170.97 L675.36 172.46 L677.6 173.21 L679.09 173.21 L681.32 172.46 L682.81 170.97 L683.55 169.48 L684.3 166.5 L684.3 164.26 L683.55 161.28 L682.81 159.79 L681.32 158.31 L679.09 157.56 L677.6 157.56 M677.6 157.56 L676.11 158.31 L674.62 159.79 L673.87 161.28 L673.12 164.26 L673.12 166.5 L673.87 169.48 L674.62 170.97 L676.11 172.46 L677.6 173.21 M679.09 173.21 L680.58 172.46 L682.07 170.97 L682.81 169.48 L683.55 166.5 L683.55 164.26 L682.81 161.28 L682.07 159.79 L680.58 158.31 L679.09 157.56" fill="none" stroke="#ff0000" stroke-width="1.4" stroke-linecap="round" stroke-linejoin="round"/>
<path d="M667.16 220.89 L667.91 223.13 L667.91 218.66 L667.16 220.89 L665.67 219.41 L663.44 218.66 L661.95 218.66 L659.72 219.41 L658.23 220.89 L657.48 222.38 L656.74 224.62 L656.74 228.34 L657.48 230.58 L658.23 232.07 L659.72 233.56 L661.95 234.31 L663.44 234.31 L665.67 233.56 L667.16 232.07 L667.91 230.58 M661.95 218.66 L660.46 219.41 L658.97 220.89 L658.23 222.38 L657.48 224.62 L657.48 228.34 L658.23 230.58 L658.97 232.07 L660.46 233.56 L661.95 234.31 M673.87 218.66 L673.87 234.31 M674.62 218.66 L674.62 234.31 M683.55 218.66 L683.55 234.31 M684.3 218.66 L684.3 234.31 M671.63 218.66 L676.85 218.66 M681.32 218.66 L686.53 218.66 M674.62 226.11 L683.55 226.11 M671.63 234.31 L676.85 234.31 M681.32 234.31 L686.53 234.31" fill="none" stroke="#0000ff" stroke-width="1.4" stroke-linecap="round" stroke-linejoin="round"/>
<path d="M693.21 233.1 L693.21 241.31 M693.64 232.23 L693.64 241.31 M693.64 232.23 L688.89 238.71 L695.8 238.71 M691.91 241.31 L694.94 241.31" fill="none" stroke="#0000ff" stroke-width="1.4" stroke-linecap="round" stroke-linejoin="round"/>
<path d="M658.52 249.76 L658.52 265.4 M659.27 249.76 L668.21 263.91 M659.27 251.25 L668.21 265.4 M668.21 249.76 L668.21 265.4 M656.29 249.76 L659.27 249.76 M665.97 249.76 L670.44 249.76 M656.29 265.4 L660.76 265.4" fill="none" stroke="#ff00ff" stroke-width="1.4" stroke-linecap="round" stroke-linejoin="round"/>
<path d="M673.66 265.06 L674.1 265.49 L673.66 265.92 L673.23 265.49 L673.23 265.06 L673.66 264.2 L674.1 263.76 L675.39 263.33 L677.12 263.33 L678.42 263.76 L678.85 264.2 L679.28 265.06 L679.28 265.92 L678.85 266.79 L677.55 267.65 L675.39 268.52 L674.53 268.95 L673.66 269.81 L673.23 271.11 L673.23 272.4 M677.12 263.33 L677.98 263.76 L678.42 264.2 L678.85 265.06 L678.85 265.92 L678.42 266.79 L677.12 267.65 L675.39 268.52 M673.23 271.54 L673.66 271.11 L674.53 271.11 L676.69 271.97 L677.98 271.97 L678.85 271.54 L679.28 271.11 M674.53 271.11 L676.69 272.4 L678.42 272.4 L678.85 271.97 L679.28 271.11 L679.28 270.24" fill="none" stroke="#ff00ff" stroke-width="1.4" stroke-linecap="round" stroke-linejoin="round"/>
<path d="M658.52 303.26 L658.52 318.9 M659.27 303.26 L668.21 317.41 M659.27 304.75 L668.21 318.9 M668.21 303.26 L668.21 318.9 M656.29 303.26 L659.27 303.26 M665.97 303.26 L670.44 303.26 M656.29 318.9 L660.76 318.9 M675.66 303.26 L675.66 318.9 M676.4 303.26 L676.4 318.9 M685.34 303.26 L685.34 318.9 M686.09 303.26 L686.09 318.9 M673.42 303.26 L678.64 303.26 M683.11 303.26 L688.32 303.26 M676.4 310.71 L685.34 310.71 M673.42 318.9 L678.64 318.9 M683.11 318.9 L688.32 318.9" fill="none" stroke="#00ff00" stroke-width="1.4" stroke-linecap="round" stroke-linejoin="round"/>
<path d="M691.54 318.56 L691.98 318.99 L691.54 319.42 L691.11 318.99 L691.11 318.56 L691.54 317.7 L691.98 317.26 L693.27 316.83 L695 316.83 L696.3 317.26 L696.73 318.13 L696.73 319.42 L696.3 320.29 L695 320.72 L693.7 320.72 M695 316.83 L695.86 317.26 L696.3 318.13 L696.3 319.42 L695.86 320.29 L695 320.72 M695 320.72 L695.86 321.15 L696.73 322.02 L697.16 322.88 L697.16 324.18 L696.73 325.04 L696.3 325.47 L695 325.9 L693.27 325.9 L691.98 325.47 L691.54 325.04 L691.11 324.18 L691.11 323.74 L691.54 323.31 L691.98 323.74 L691.54 324.18 M696.3 321.58 L696.73 322.88 L696.73 324.18 L696.3 325.04 L695.86 325.47 L695 325.9" fill="none" stroke="#00ff00" stroke-width="1.4" stroke-linecap="round" stroke-linejoin="round"/>
<path d="M306.58 416.85 L304.51 426.5 M300.38 418.92 L301.76 417.54 L303.82 416.85 L311.4 416.85" fill="none" stroke="#000" stroke-width="1.4" stroke-linecap="round" stroke-linejoin="round"/>
<path d="M315.84 427.96 L315.84 434 M316.28 427.96 L316.28 434 M316.28 429.25 L317.14 428.39 L318.44 427.96 L319.3 427.96 L320.6 428.39 L321.03 429.25 L321.03 434 M319.3 427.96 L320.16 428.39 L320.6 429.25 L320.6 434 M321.03 429.25 L321.89 428.39 L323.19 427.96 L324.05 427.96 L325.35 428.39 L325.78 429.25 L325.78 434 M324.05 427.96 L324.92 428.39 L325.35 429.25 L325.35 434 M314.55 427.96 L316.28 427.96 M314.55 434 L317.57 434 M319.3 434 L322.32 434 M324.05 434 L327.08 434 M330.1 424.93 L329.67 425.36 L330.1 425.8 L330.53 425.36 L330.1 424.93 M330.1 427.96 L330.1 434 M330.53 427.96 L330.53 434 M328.81 427.96 L330.53 427.96 M328.81 434 L331.83 434 M334.42 427.96 L339.18 434 M334.86 427.96 L339.61 434 M339.61 427.96 L334.42 434 M333.56 427.96 L336.15 427.96 M337.88 427.96 L340.47 427.96 M333.56 434 L336.15 434 M337.88 434 L340.47 434" fill="none" stroke="#000" stroke-width="1.25" stroke-linecap="round" stroke-linejoin="round"/>
<path d="M499.75 399.42 L490.88 403.74 M494.3 395.81 L496.24 396.05 L498.05 397.25 L502.72 403.23" fill="none" stroke="#000" stroke-width="1.4" stroke-linecap="round" stroke-linejoin="round"/>
<path d="M501.19 417.27 L501.63 416.35 L501.79 415.06 L501.58 414.06 L500.45 412.61 L499.53 412.17 L498.24 412.01 L497.24 412.22 L495.87 412.7 L494.07 414.11 L493.27 415.32 L492.83 416.24 L492.67 417.53 L492.87 418.53 L494 419.98 L494.93 420.42 L496.21 420.58 L497.22 420.37 M506.38 420.19 L505.45 419.75 L504.17 419.59 L503.16 419.8 L501.8 420.28 L499.99 421.69 L499.19 422.9 L498.75 423.82 L498.59 425.11 L498.8 426.11 L499.92 427.56 L500.85 428 L502.13 428.16 L503.14 427.95 L504.5 427.47 L506.31 426.06 L507.11 424.85 L507.55 423.93 L507.71 422.64 L507.5 421.64 L506.38 420.19" fill="none" stroke="#000" stroke-width="1.4" stroke-linecap="round" stroke-linejoin="round"/>
<path d="M594.97 399.47 L585.32 401.51 M590.56 394.65 L592.38 395.35 L593.85 396.95 L596.94 403.88" fill="none" stroke="#000" stroke-width="1.4" stroke-linecap="round" stroke-linejoin="round"/>
<path d="M591.87 410.63 L583.58 414.32 M591.87 410.63 L586.04 419.85 M594.33 416.16 L586.04 419.85" fill="none" stroke="#000" stroke-width="1.4" stroke-linecap="round" stroke-linejoin="round"/>
<path d="M587.23 423.84 L587.1 424.17 L586.77 424.04 L586.9 423.71 L587.12 423.61 L587.68 423.64 L588.02 423.76 L588.55 424.35 L588.96 425.26 L589.03 426.05 L588.91 426.38 L588.55 426.82 L588.09 427.02 L587.53 427 L586.77 426.51 L585.8 425.57 L585.37 425.22 L584.71 424.96 L583.92 425.04 L583.23 425.34 M588.96 425.26 L588.93 425.82 L588.81 426.16 L588.45 426.59 L587.99 426.79 L587.43 426.77 L586.67 426.28 L585.8 425.57 M583.69 425.14 L584.02 425.27 L584.23 425.73 L584.28 427.07 L584.58 427.76 L585.02 428.12 L585.35 428.24 M584.23 425.73 L584.05 427.18 L584.46 428.09 L584.79 428.22 L585.35 428.24 L585.8 428.04" fill="none" stroke="#000" stroke-width="1.4" stroke-linecap="round" stroke-linejoin="round"/>
</svg>
</body></html>
